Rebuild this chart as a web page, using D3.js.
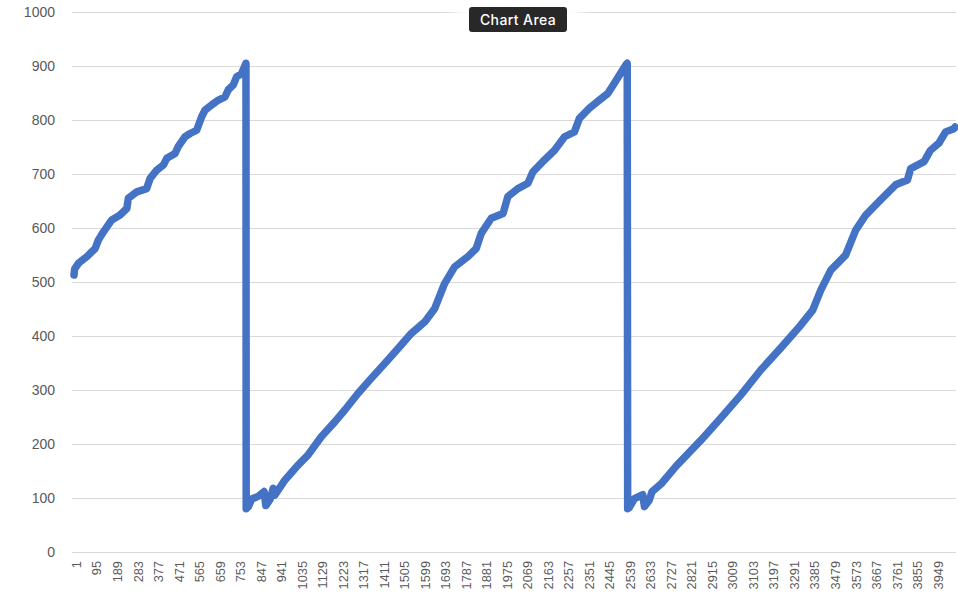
<!DOCTYPE html>
<html>
<head>
<meta charset="utf-8">
<script src="https://cdn.jsdelivr.net/npm/d3@7"></script>
<style>
  html, body { margin: 0; padding: 0; background: #ffffff; }
  svg { display: block; }
</style>
</head>
<body>
<div id="chart"></div>
<script>
// Sample readings: category number (row index) and the measured value at that row
const pointIndex = [
  1, 4, 22, 60, 98, 113, 136, 174, 212, 243, 250, 289, 334, 350, 380, 411, 426, 464, 479, 510,
  533, 563, 586, 601, 632, 663, 693, 708, 731, 746, 769, 789,
  790, 800, 815, 845, 872, 880, 900, 914, 921, 967, 1021, 1074, 1135, 1196, 1242, 1303, 1364,
  1425, 1486, 1547, 1608, 1654, 1699, 1745, 1806, 1844, 1867, 1913, 1967, 1989, 2035, 2081,
  2104, 2157, 2203, 2249, 2294, 2317, 2363, 2409, 2447, 2477, 2500, 2531, 2536,
  2538, 2545, 2569, 2607, 2615, 2637, 2650, 2691, 2760, 2874, 2965, 3057, 3148, 3240, 3331,
  3386, 3423, 3469, 3537, 3583, 3629, 3697, 3766, 3820, 3835, 3896, 3926, 3964, 3995, 4033, 4038
];
const pointValue = [
  513, 524, 535, 547, 562, 578, 593, 615, 624, 636, 655, 667, 673, 692, 707, 717, 729, 738, 751, 769,
  775, 781, 806, 818, 828, 837, 843, 856, 865, 880, 886, 905,
  80, 84, 98, 103, 112, 86, 98, 118, 105, 133, 158, 180, 214, 241, 263, 294, 322,
  349, 377, 405, 426, 451, 497, 528, 547, 562, 590, 618, 627, 658, 673, 683,
  704, 726, 744, 769, 778, 803, 822, 837, 849, 868, 883, 903, 905,
  80, 82, 99, 106, 84, 96, 112, 126, 159, 207, 248, 291, 337, 378, 420,
  448, 485, 522, 550, 596, 624, 652, 680, 689, 710, 723, 744, 757, 778, 784, 787
];

const categoryCount = 4038;
const xTickLabels = [
  1, 95, 189, 283, 377, 471, 565, 659, 753, 847, 941, 1035, 1129, 1223, 1317, 1411,
  1505, 1599, 1693, 1787, 1881, 1975, 2069, 2163, 2257, 2351, 2445, 2539, 2633, 2727,
  2821, 2915, 3009, 3103, 3197, 3291, 3385, 3479, 3573, 3667, 3761, 3855, 3949
];
const yTickValues = [0, 100, 200, 300, 400, 500, 600, 700, 800, 900, 1000];

const W = 958, H = 593;
const plot = { left: 72, right: 956, top: 12, bottom: 552 };

const svg = d3.select("#chart").append("svg")
  .attr("width", W).attr("height", H);

const x = d3.scaleLinear().domain([1, categoryCount]).range([plot.left + 2, plot.right - 1]);
const y = d3.scaleLinear().domain([0, 1000]).range([plot.bottom, plot.top]);

const font = "'Liberation Sans', Arial, Helvetica, sans-serif";

// Horizontal gridlines and value labels
const yAxis = d3.axisLeft(y).tickValues(yTickValues)
  .tickSize(-(plot.right - plot.left)).tickPadding(17).tickFormat(d3.format("d"));
const gy = svg.append("g").attr("transform", `translate(${plot.left},0)`).call(yAxis);
gy.select(".domain").remove();
gy.selectAll(".tick line").attr("stroke", "#d9d9d9").attr("stroke-width", 1);
gy.selectAll(".tick text")
  .attr("fill", "#595959").style("font-family", font).style("font-size", "14px");

// Category labels, rotated
const xAxis = d3.axisBottom(x).tickValues(xTickLabels).tickSize(0).tickFormat(d3.format("d"));
const gx = svg.append("g").attr("transform", `translate(2,${plot.bottom})`).call(xAxis);
gx.select(".domain").remove();
gx.selectAll(".tick text")
  .attr("fill", "#595959").style("font-family", font).style("font-size", "12.8px")
  .attr("text-anchor", "end")
  .attr("transform", "rotate(-90)")
  .attr("x", -9).attr("y", 0).attr("dy", "0.35em");

// Data line
const points = pointIndex.map((c, i) => [c, pointValue[i]]);
const line = d3.line().x(d => x(d[0])).y(d => y(d[1]));
svg.append("path")
  .datum(points)
  .attr("d", line)
  .attr("fill", "none")
  .attr("stroke", "#4472c4")
  .attr("stroke-width", 7.5)
  .attr("stroke-linejoin", "round")
  .attr("stroke-linecap", "round");

// Hover tooltip over the chart
const defs = svg.append("defs");
defs.append("filter").attr("id", "glow").attr("x", "-50%").attr("y", "-100%")
  .attr("width", "200%").attr("height", "300%")
  .append("feGaussianBlur").attr("stdDeviation", 6);

const tip = svg.append("g").attr("transform", "translate(469,7)");
tip.append("rect")
  .attr("x", -14).attr("y", -4).attr("width", 126).attr("height", 30)
  .attr("fill", "#ffffff").attr("filter", "url(#glow)");
tip.append("rect")
  .attr("width", 98).attr("height", 25).attr("rx", 3)
  .attr("fill", "#282828");
tip.append("text")
  .attr("x", 49).attr("y", 17.5)
  .attr("text-anchor", "middle")
  .attr("fill", "#ffffff")
  .style("font-family", "Inter, 'Open Sans', 'Liberation Sans', sans-serif")
  .style("font-size", "14px").style("font-weight", "500")
  .style("letter-spacing", "0.4px")
  .text("Chart Area");
</script>
</body>
</html>
